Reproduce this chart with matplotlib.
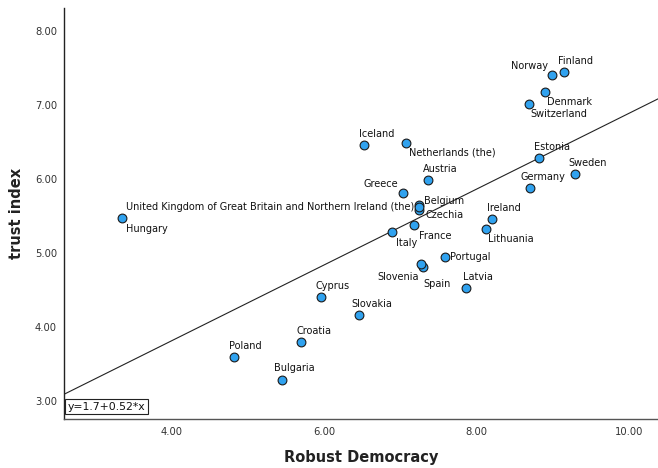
import numpy as np
import matplotlib
matplotlib.use('Agg')
import matplotlib.pyplot as plt

# Robust Democracy vs trust index, one point per country
countries = ['Finland', 'Norway', 'Denmark', 'Switzerland', 'Estonia', 'Sweden',
             'Germany', 'Ireland', 'Lithuania', 'Latvia', 'Spain', 'Slovenia',
             'Portugal', 'France', 'Italy', 'Czechia', 'Belgium',
             'United Kingdom of Great Britain and Northern Ireland (the)',
             'Hungary', 'Greece', 'Austria', 'Netherlands (the)', 'Iceland',
             'Cyprus', 'Slovakia', 'Croatia', 'Poland', 'Bulgaria']
democracy = [9.14, 8.99, 8.90, 8.68, 8.82, 9.29,
             8.70, 8.20, 8.12, 7.86, 7.30, 7.27,
             7.58, 7.18, 6.89, 7.25, 7.25,
             7.25,
             3.35, 7.03, 7.36, 7.07, 6.52,
             5.96, 6.46, 5.70, 4.82, 5.45]
trust = [7.44, 7.40, 7.17, 7.01, 6.29, 6.07,
         5.88, 5.46, 5.32, 4.53, 4.81, 4.85,
         4.95, 5.38, 5.29, 5.58, 5.65,
         5.62,
         5.47, 5.81, 5.99, 6.49, 6.46,
         4.41, 4.16, 3.80, 3.60, 3.28]

fit_text = 'y=1.7+0.52*x'
fit_a, fit_b = 1.76, 0.513

# label placement: (dx, dy) in pixels, horizontal alignment
label_pos = {
    'Finland': (-6, 11, 'left'), 'Norway': (-4, 9, 'right'),
    'Denmark': (2, -10, 'left'), 'Switzerland': (2, -10, 'left'),
    'Estonia': (-5, 11, 'left'), 'Sweden': (-7, 11, 'left'),
    'Germany': (-10, 11, 'left'), 'Ireland': (-5, 11, 'left'),
    'Lithuania': (2, -10, 'left'), 'Latvia': (-3, 11, 'left'),
    'Spain': (0, -17, 'left'), 'Slovenia': (-2, -13, 'right'),
    'Portugal': (5, 0, 'left'), 'France': (5, -11, 'left'),
    'Italy': (4, -11, 'left'), 'Czechia': (6, -5, 'left'),
    'Belgium': (5, 4, 'left'),
    'United Kingdom of Great Britain and Northern Ireland (the)': (-5, 0, 'right'),
    'Hungary': (4, -11, 'left'), 'Greece': (-4, 9, 'right'),
    'Austria': (-5, 11, 'left'), 'Netherlands (the)': (3, -10, 'left'),
    'Iceland': (-5, 11, 'left'), 'Cyprus': (-5, 11, 'left'),
    'Slovakia': (-8, 11, 'left'), 'Croatia': (-5, 11, 'left'),
    'Poland': (-5, 11, 'left'), 'Bulgaria': (-8, 12, 'left'),
}

fig = plt.figure(figsize=(6.58, 4.68), dpi=100)
ax = fig.add_axes([64/658, 49/468, 594/658, 411/468])

xmin, xmax = 2.594, 10.376
ax.set_xlim(xmin, xmax)
ax.set_ylim(2.757, 8.311)

# fit line across the whole plot
xs = np.array([xmin, xmax])
ax.plot(xs, fit_a + fit_b*xs, color='#222222', lw=0.8, zorder=2)

ax.scatter(democracy, trust, s=40, c='#30a2ef', edgecolors='#1a1a1a',
           linewidths=0.8, zorder=3)

for name, x, y in zip(countries, democracy, trust):
    dx, dy, ha = label_pos[name]
    ax.annotate(name, (x, y), xytext=(dx, dy), textcoords='offset pixels',
                ha=ha, va='center', fontsize=7.0, color='#111111', zorder=4)

ax.text(0.006, 0.018, fit_text, transform=ax.transAxes, fontsize=7.8,
        ha='left', va='bottom', color='#111111',
        bbox=dict(boxstyle='square,pad=0.25', fc='white', ec='#222222', lw=0.8))

ax.set_xticks([4, 6, 8, 10])
ax.set_yticks([3, 4, 5, 6, 7, 8])
ax.set_xticklabels(['4.00', '6.00', '8.00', '10.00'])
ax.set_yticklabels(['3.00', '4.00', '5.00', '6.00', '7.00', '8.00'])
ax.tick_params(length=0, labelsize=7.2, labelcolor='#333333')
ax.tick_params(axis='x', pad=6)
ax.tick_params(axis='y', pad=5)

ax.spines['top'].set_visible(False)
ax.spines['right'].set_visible(False)
ax.spines['left'].set_color('#222222')
ax.spines['bottom'].set_color('#555555')
ax.spines['left'].set_linewidth(1.0)
ax.spines['bottom'].set_linewidth(1.0)

ax.set_xlabel('Robust Democracy', fontsize=10.5, fontweight='bold',
              color='#222222', labelpad=9)
ax.set_ylabel('trust index', fontsize=10.5, fontweight='bold',
              color='#222222', labelpad=8)

fig.savefig('out.png', dpi=100)
